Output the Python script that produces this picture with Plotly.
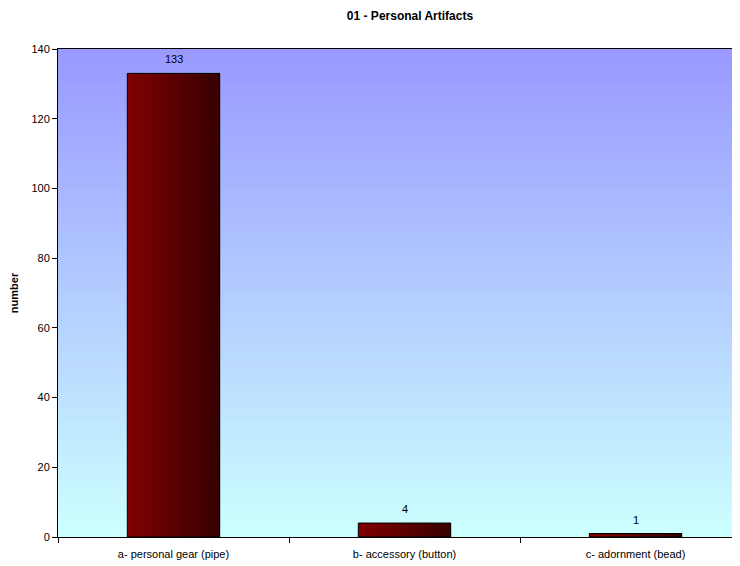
import plotly.graph_objects as go

categories = ["a- personal gear (pipe)", "b- accessory (button)", "c- adornment (bead)"]
counts = [133, 4, 1]
y_ticks = [0, 20, 40, 60, 80, 100, 120, 140]
title_text = "01 - Personal Artifacts"
y_title = "number"

# the page body has an 8px margin, so the figure starts at (8, 8)
W, H = 740, 566
ML, MR, MT, MB = 50, 0, 41, 37
cat_px = 231.0
plot_w = W - ML - MR
x_max = -0.5 + plot_w / cat_px

FONT = "Liberation Sans, Arial, sans-serif"

fig = go.Figure()

# bar horizontal gradient: each slice runs from its start to the bar's right edge,
# later slices drawn on top, so there are no seams
N = 40
bw = 0.40
c0 = (128, 0, 0)
c1 = (55, 0, 0)
for i in range(N):
    t = i / (N - 1)
    col = "rgb(%d,%d,%d)" % tuple(round(a + (b - a) * t) for a, b in zip(c0, c1))
    start = -bw / 2 + i * bw / N
    fig.add_trace(go.Bar(
        x=categories, y=counts,
        width=[bw / 2 - start] * len(counts),
        offset=[start] * len(counts),
        marker=dict(color=col, line=dict(width=0)),
        showlegend=False, hoverinfo="skip",
    ))

# outline
fig.add_trace(go.Bar(
    x=categories, y=counts, width=[bw] * len(counts),
    marker=dict(color="rgba(0,0,0,0)", line=dict(color="black", width=1)),
    showlegend=False,
))

# value labels above bars
annotations = [dict(x=c, y=v, xref="x", yref="y", text=str(v), showarrow=False,
                    yshift=14, font=dict(family=FONT, size=11, color="black"))
               for c, v in zip(categories, counts)]

# vertical background gradient
shapes = []
B = 80
top = (153, 153, 255)
bot = (204, 255, 255)
for i in range(B):
    t = i / (B - 1)
    col = "rgb(%d,%d,%d)" % tuple(round(a + (b - a) * t) for a, b in zip(top, bot))
    shapes.append(dict(type="rect", xref="x domain", yref="y domain",
                       x0=0, x1=1, y0=1 - (i + 1) / B, y1=1 - i / B + 0.002,
                       fillcolor=col, line=dict(width=0), layer="below"))

fig.update_layout(
    width=W, height=H,
    margin=dict(l=ML, r=MR, t=MT, b=MB, pad=0),
    paper_bgcolor="white", plot_bgcolor="rgba(0,0,0,0)",
    barmode="overlay",
    shapes=shapes,
    annotations=annotations,
    title=dict(text="<b>" + title_text + "</b>", x=402 / W, xanchor="center",
               y=1 - 8 / H, yanchor="middle",
               font=dict(family=FONT, size=12, color="black")),
    font=dict(family=FONT, size=11, color="black"),
    xaxis=dict(range=[-0.5, x_max], showline=True, linecolor="black", linewidth=1,
               mirror=True, ticks="outside", ticklen=5, tickcolor="black",
               tickson="boundaries", showgrid=False, zeroline=False,
               ticklabelstandoff=7, automargin=False,
               tickfont=dict(family=FONT, size=11, color="black")),
    yaxis=dict(range=[0, 140], tickvals=y_ticks, showline=True, linecolor="black",
               linewidth=1, ticks="outside", ticklen=5, tickcolor="black",
               showgrid=False, zeroline=False,
               tickfont=dict(family=FONT, size=11, color="black"),
               title=dict(text="<b>" + y_title + "</b>", standoff=11,
                          font=dict(family=FONT, size=11, color="black"))),
)

fig.write_html("out.html")
